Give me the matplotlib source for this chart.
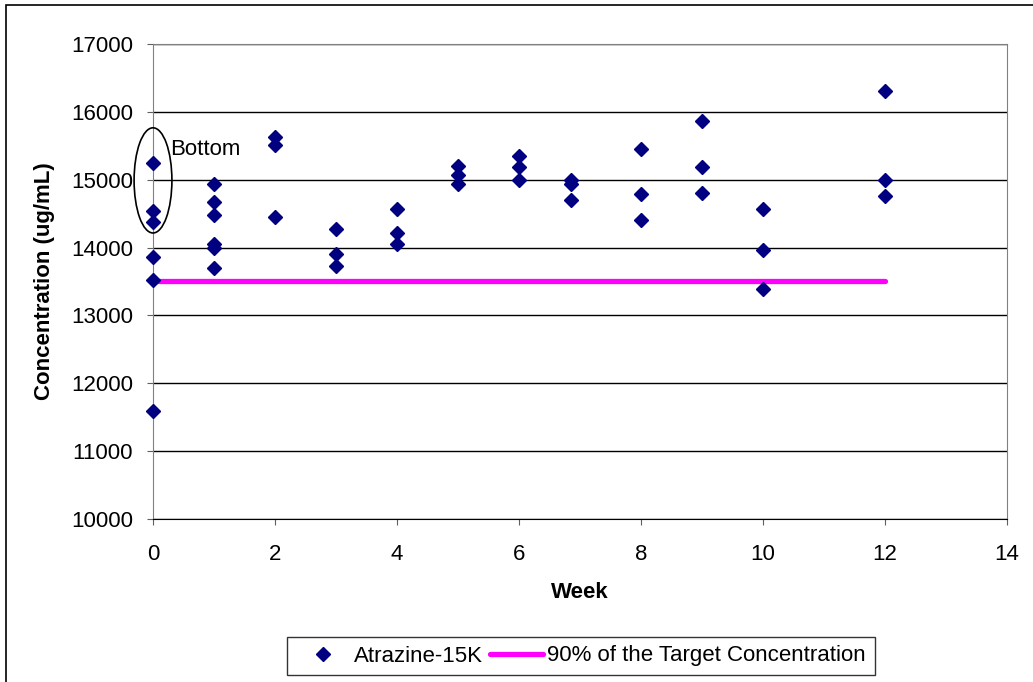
import matplotlib.pyplot as plt
from matplotlib.patches import Ellipse, Rectangle

plt.rcParams['font.family'] = ['Liberation Sans', 'DejaVu Sans']

# Atrazine-15K samples, week vs concentration
week = [0, 0, 0, 0, 0, 0,
        1, 1, 1, 1, 1, 1,
        2, 2, 2,
        3, 3, 3,
        4, 4, 4,
        5, 5, 5,
        6, 6, 6,
        6.85, 6.85, 6.85,
        8, 8, 8,
        9, 9, 9,
        10, 10, 10,
        12, 12, 12]
conc = [15245, 14537, 14375, 13858, 13525, 11597,
        14940, 14670, 14473, 14046, 13991, 13696,
        15628, 15506, 14454,
        14267, 13908, 13726,
        14562, 14212, 14046,
        15196, 15063, 14940,
        15344, 15186, 14990,
        15000, 14940, 14695,
        15457, 14783, 14400,
        15864, 15186, 14808,
        14562, 13968, 13392,
        16302, 15000, 14754]

target_week = [0, 12]
target_conc = [13500, 13500]

FS = 16

fig = plt.figure(figsize=(10.33, 6.82), dpi=100)
ax = fig.add_axes([153/1033, 1 - 519/682, 854/1033, 475/682])

# outer chart frame
fig.patches.append(Rectangle((6/1033, -0.05), 1.1, 1 - 5/682 + 0.05, transform=fig.transFigure,
                             fill=False, ec='black', lw=1.2))

ax.set_xlim(0, 14)
ax.set_ylim(10000, 17000)
ax.set_xticks(range(0, 15, 2))
ax.set_yticks(range(10000, 17001, 1000))
ax.yaxis.grid(True, color='black', lw=1)
ax.set_axisbelow(True)
for s in ['top', 'right', 'left']:
    ax.spines[s].set_color('#808080')
ax.spines['bottom'].set_color('black')
ax.tick_params(direction='out', length=4.3, labelsize=FS, color='#606060')
ax.tick_params(axis='y', pad=10)
ax.tick_params(axis='x', pad=14)

ax.plot(week, conc, 'D', color='#000080', ms=7.5, ls='none', label='Atrazine-15K', clip_on=False, zorder=4)
ax.plot(target_week, target_conc, color='#FF00FF', lw=3.8, solid_capstyle='round',
        label='90% of the Target Concentration', zorder=3)

ax.add_patch(Ellipse((0, 14990), 0.62, 1550, fill=False, ec='black', lw=1.2, clip_on=False, zorder=5))
ax.text(0.28, 15447, 'Bottom', fontsize=FS, va='center', ha='left')

ax.set_xlabel('Week', fontsize=FS, fontweight='bold')
ax.set_ylabel('Concentration (ug/mL)', fontsize=FS, fontweight='bold')
ax.xaxis.set_label_coords(0.5, (519 - 592) / 475)
ax.xaxis.label.set_verticalalignment('center')
ax.yaxis.set_label_coords((45 - 153) / 854, 0.5)
ax.yaxis.label.set_verticalalignment('center')

leg = ax.legend(loc='center', bbox_to_anchor=(581/1033, 1 - 656/682), bbox_transform=fig.transFigure,
                ncol=2, fontsize=FS, frameon=True, fancybox=False, edgecolor='black',
                handlelength=2.4, columnspacing=0.3, handletextpad=0.2, borderpad=0.4)
leg.get_frame().set_linewidth(1)

fig.savefig('out.png', dpi=100)
